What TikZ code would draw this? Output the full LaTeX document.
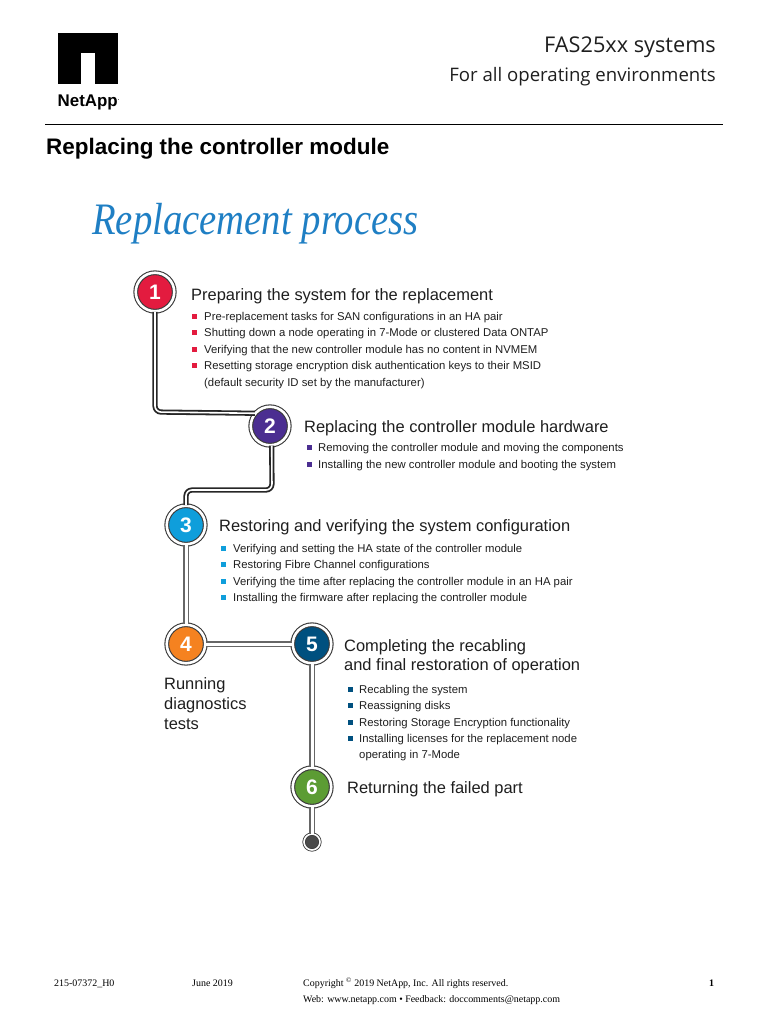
\documentclass[tikz,border=0pt]{standalone}
\usepackage{fontspec}
\setmainfont{Liberation Sans}
\newfontfamily\footfont{Liberation Serif}
\newfontfamily\headfont{Open Sans}
\newfontfamily\handfont{Liberation Serif}
\usetikzlibrary{calc, positioning}

\definecolor{stepred}{HTML}{E31B3F}
\definecolor{steppurple}{HTML}{4B2E91}
\definecolor{stepblue}{HTML}{0F9EDB}
\definecolor{steporange}{HTML}{F58220}
\definecolor{stepnavy}{HTML}{00507F}
\definecolor{stepgreen}{HTML}{5C9C34}
\definecolor{ringgray}{HTML}{3A3A3A}
\definecolor{endgray}{HTML}{4A4A4A}
\definecolor{bodygray}{HTML}{1E1E1E}
\definecolor{handblue}{HTML}{1F7FC4}

\tikzset{
  stepcircle/.style={circle, fill=#1, draw=ringgray, double=white, line width=1.1pt,
    double distance=2.6pt, minimum size=38.5pt, inner sep=0pt, text=white,
    font=\fontsize{21}{21}\selectfont\bfseries},
  steptitle/.style={anchor=base west, inner sep=0pt, text=bodygray,
    font=\fontsize{16.45}{20}\selectfont},
  itemtext/.style={anchor=base west, inner sep=0pt, text=bodygray,
    font=\fontsize{11.33}{13}\selectfont},
  itemmark/.style={fill=#1, inner sep=0pt, minimum size=5pt},
  footertext/.style={anchor=base west, inner sep=0pt,
    font=\fontsize{9.95}{11}\footfont},
  linkheavy/.style={draw=black!85, double=white, line width=1.8pt,
    double distance=1.6pt, rounded corners=6pt},
  linklight/.style={draw=black!60, double=white, line width=1.1pt,
    double distance=3pt, rounded corners=6pt}
}

\begin{document}
\begin{tikzpicture}[x=1pt, y=-1pt]
\useasboundingbox (0,0) rectangle (768,1024);

% Logo and page header
\fill[black] (58,33) rectangle (118,84);
\fill[white] (81,53) rectangle (95,84);
\node[anchor=base west, inner sep=0pt, font=\fontsize{16.9}{17}\selectfont\bfseries] (logotext) at (57.5,106.5) {NetApp\textsuperscript{\tiny .}};
\node[anchor=base east, inner sep=0pt, text=bodygray, font=\fontsize{21.7}{22}\headfont] (headone) at (716,53) {FAS25xx systems};
\node[anchor=base east, inner sep=0pt, text=bodygray, font=\fontsize{18.6}{20}\headfont] (headtwo) at (716,82) {For all operating environments};
\draw[black, line width=0.9pt] (45,124.5) -- (723,124.5);
\node[anchor=base west, inner sep=0pt, font=\fontsize{22.45}{24}\selectfont\bfseries] (pagetitle) at (46,155) {Replacing the controller module};
\node[anchor=base west, inner sep=0pt, text=handblue, font=\fontsize{45}{47}\handfont\itshape] (handtitle) at (92,235) {\scalebox{0.86}[1]{Replacement process}};

% Steps
\node[stepcircle=stepred] (step1) at (155,292) {1};
\node[stepcircle=steppurple] (step2) at (270,426) {2};
\node[stepcircle=stepblue] (step3) at (186,525) {3};
\node[stepcircle=steporange] (step4) at (186,644) {4};
\node[stepcircle=stepnavy] (step5) at (312,644) {5};
\node[stepcircle=stepgreen] (step6) at (312,787) {6};
\node[circle, fill=endgray, draw=ringgray, double=white, line width=0.8pt, double distance=1.6pt, minimum size=16pt, inner sep=0pt] (stepend) at (312,842) {};

% Connectors
\coordinate (bend12) at (155,412);
\coordinate (bend23a) at (272,490);
\coordinate (bend23b) at (186,490);
\draw[linkheavy] (step1.south) -- (bend12) -- (step2.140);
\draw[linkheavy] (step2.-85) -- (bend23a) -- (bend23b) -- (step3.north);
\draw[linklight] (step3.south) -- (step4.north);
\draw[linklight] (step4.east) -- (step5.west);
\draw[linklight] (step5.south) -- (step6.north);
\draw[linklight] (step6.south) -- (stepend.north);

% Step titles
\node[steptitle] (title1) at (191,300) {Preparing the system for the replacement};
\node[steptitle] (title2) at (304,432) {Replacing the controller module hardware};
\node[steptitle] (title3) at (219,531) {Restoring and verifying the system configuration};
\node[steptitle] (title4a) at (164,689) {Running};
\node[steptitle] (title4b) at (164,709) {diagnostics};
\node[steptitle] (title4c) at (164,729) {tests};
\node[steptitle] (title5a) at (344,651) {Completing the recabling};
\node[steptitle] (title5b) at (344,670) {and final restoration of operation};
\node[steptitle] (title6) at (347,793) {Returning the failed part};

% Items of each step
\foreach \y/\t in {316/Pre-replacement tasks for SAN configurations in an HA pair,
                   332/Shutting down a node operating in 7-Mode or clustered Data ONTAP,
                   349/Verifying that the new controller module has no content in NVMEM,
                   365/Resetting storage encryption disk authentication keys to their MSID} {
  \node[itemmark=stepred] at (194.5,\y) {};
  \node[itemtext] at (204,\y+4) {\t};
}
\node[itemtext] (item1e) at (204,386) {(default security ID set by the manufacturer)};

\foreach \y/\t in {447/Removing the controller module and moving the components,
                   464/Installing the new controller module and booting the system} {
  \node[itemmark=steppurple] at (309.5,\y) {};
  \node[itemtext] at (318,\y+4) {\t};
}

\foreach \y/\t in {548/Verifying and setting the HA state of the controller module,
                   564/Restoring Fibre Channel configurations,
                   581/Verifying the time after replacing the controller module in an HA pair,
                   597/Installing the firmware after replacing the controller module} {
  \node[itemmark=stepblue] at (223.5,\y) {};
  \node[itemtext] at (233,\y+4) {\t};
}

\foreach \y/\t in {689/Recabling the system,
                   705/Reassigning disks,
                   722/Restoring Storage Encryption functionality,
                   738/Installing licenses for the replacement node} {
  \node[itemmark=stepnavy] at (350.5,\y) {};
  \node[itemtext] at (359,\y+4) {\t};
}
\node[itemtext] (item5e) at (359,758) {operating in 7-Mode};

% Footer
\node[footertext] (footcode) at (54,986.5) {215-07372\_H0};
\node[footertext] (footdate) at (192,986.5) {June 2019};
\node[footertext] (footcopy) at (303,986.5) {Copyright \textsuperscript{©} 2019 NetApp, Inc. All rights reserved.};
\node[footertext] (footweb) at (303,1002.5) {Web: www.netapp.com • Feedback: doccomments@netapp.com};
\node[footertext, font=\fontsize{9.95}{11}\footfont\bfseries] (footpage) at (709,986.5) {1};

\end{tikzpicture}
\end{document}
